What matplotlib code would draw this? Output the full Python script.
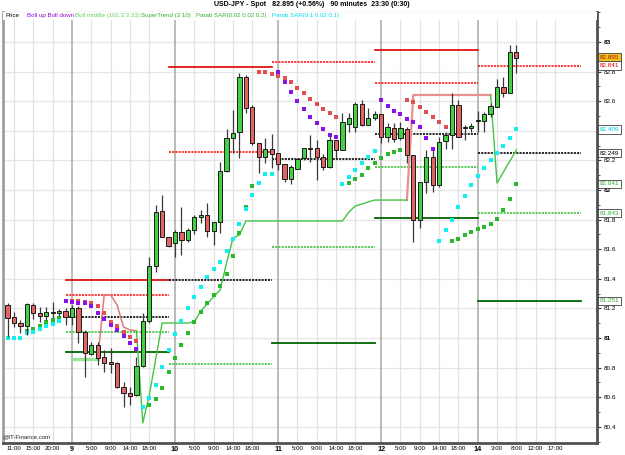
import numpy as np
import matplotlib
matplotlib.use('Agg')
import matplotlib.pyplot as plt
from matplotlib.patches import Rectangle
import matplotlib.transforms as mtrans

plt.rcParams['font.family'] = ['Liberation Sans', 'DejaVu Sans']
plt.rcParams['lines.scale_dashes'] = False

# ---------------- data ----------------
bar_idx = list(range(-10, 70))
opens = [81.223, 81.142, 81.101, 81.081, 81.223, 81.169, 81.149, 81.169, 81.169, 81.182,
         81.142, 81.203, 81.041, 80.892, 80.953, 80.872, 80.838, 80.831, 80.669, 80.628,
         80.615, 80.811, 81.115, 81.486, 81.858, 81.682, 81.642, 81.716, 81.662, 81.730,
         81.818, 81.831, 81.723, 81.784, 82.128, 82.351, 82.392, 82.764, 82.561, 82.318,
         82.223, 82.277, 82.250, 82.176, 82.074, 82.142, 82.216, 82.277, 82.284, 82.223,
         82.155, 82.338, 82.270, 82.446, 82.426, 82.581, 82.439, 82.486, 82.514, 82.358,
         82.419, 82.351, 82.412, 82.236, 81.797, 82.054, 82.223, 82.034, 82.331, 82.372,
         82.574, 82.419, 82.419, 82.466, 82.466, 82.514, 82.561, 82.696, 82.655, 82.932]
highs = [81.236, 81.176, 81.122, 81.236, 81.236, 81.209, 81.209, 81.243, 81.196, 81.203,
         81.223, 81.216, 81.054, 80.973, 80.973, 80.919, 80.932, 80.838, 80.703, 80.669,
         80.872, 81.169, 81.547, 81.899, 81.966, 81.682, 81.730, 81.885, 81.743, 81.831,
         81.865, 81.912, 81.784, 82.189, 82.412, 82.541, 82.791, 82.777, 82.575, 82.318,
         82.351, 82.378, 82.250, 82.176, 82.169, 82.209, 82.284, 82.372, 82.338, 82.243,
         82.372, 82.338, 82.520, 82.520, 82.595, 82.608, 82.554, 82.534, 82.514, 82.453,
         82.453, 82.459, 82.426, 82.236, 82.054, 82.270, 82.270, 82.358, 82.392, 82.655,
         82.608, 82.439, 82.453, 82.534, 82.527, 82.588, 82.750, 82.764, 82.980, 82.980]
lows = [81.007, 81.074, 81.034, 81.020, 81.128, 81.108, 81.122, 81.135, 81.149, 81.088,
        81.088, 80.966, 80.736, 80.885, 80.818, 80.770, 80.764, 80.662, 80.534, 80.547,
        80.608, 80.804, 81.101, 81.446, 81.682, 81.615, 81.547, 81.561, 81.649, 81.703,
        81.777, 81.682, 81.628, 81.709, 82.122, 82.250, 82.216, 82.520, 82.304, 82.115,
        82.182, 82.149, 82.135, 82.054, 82.041, 82.142, 82.203, 82.189, 82.068, 82.135,
        82.149, 82.216, 82.270, 82.392, 82.392, 82.432, 82.439, 82.473, 82.318, 82.324,
        82.324, 82.338, 82.182, 81.649, 81.743, 81.980, 81.986, 82.020, 82.277, 82.277,
        82.358, 82.338, 82.392, 82.392, 82.392, 82.493, 82.561, 82.628, 82.655, 82.791]
closes = [81.135, 81.101, 81.081, 81.230, 81.169, 81.149, 81.176, 81.176, 81.182, 81.142,
          81.203, 81.041, 80.899, 80.953, 80.865, 80.831, 80.824, 80.669, 80.628, 80.608,
          80.811, 81.115, 81.486, 81.851, 81.682, 81.622, 81.716, 81.662, 81.730, 81.818,
          81.831, 81.723, 81.784, 82.128, 82.351, 82.385, 82.764, 82.554, 82.318, 82.223,
          82.277, 82.243, 82.176, 82.074, 82.155, 82.209, 82.284, 82.284, 82.223, 82.155,
          82.338, 82.270, 82.459, 82.486, 82.581, 82.439, 82.486, 82.514, 82.358, 82.426,
          82.345, 82.419, 82.236, 81.797, 82.054, 82.223, 82.034, 82.324, 82.372, 82.574,
          82.358, 82.426, 82.432, 82.468, 82.514, 82.568, 82.696, 82.655, 82.932, 82.895]

# Parabolic SAR (0.02 0.02 0.2): green below price, red above price
sar1_green_idx = list(range(-7, -1)) + list(range(12, 29)) + list(range(43, 52)) + list(range(59, 70))
sar1_green = [81.044, 81.061, 81.081, 81.108, 81.122, 81.135,
              80.547, 80.588, 80.664, 80.768, 80.863, 80.953, 81.036, 81.108, 81.176, 81.236,
              81.291, 81.353, 81.432, 81.554, 81.709, 81.885, 82.029,
              82.049, 82.072, 82.101, 82.147, 82.182, 82.214, 82.241, 82.257, 82.270,
              81.655, 81.669, 81.693, 81.714, 81.734, 81.752, 81.772, 81.804, 81.863, 81.937, 82.041]
sar1_red_idx = list(range(0, 11)) + list(range(29, 42)) + list(range(52, 59))
sar1_red = [81.250, 81.247, 81.243, 81.236, 81.216, 81.169, 81.110, 81.081, 81.039, 81.007, 80.980,
            82.799, 82.799, 82.784, 82.772, 82.755, 82.732, 82.687, 82.653, 82.615, 82.581, 82.547,
            82.518, 82.490,
            82.608, 82.597, 82.563, 82.525, 82.491, 82.457, 82.424]

# Parabolic SAR (0.1 0.02 0.1): cyan below price, purple above price
sar2_cyan_idx = list(range(-10, -1)) + list(range(11, 32)) + list(range(42, 48)) + list(range(57, 70))
sar2_cyan = [81.002, 81.002, 81.002, 81.032, 81.043, 81.061, 81.081, 81.097, 81.115,
             80.536, 80.593, 80.682, 80.802, 80.919, 81.027, 81.117, 81.203, 81.279, 81.347,
             81.414, 81.466, 81.516, 81.588, 81.668, 81.767, 81.874, 81.964, 82.045, 82.106, 82.106,
             82.041, 82.090, 82.135, 82.184, 82.225, 82.266,
             81.655, 81.730, 81.797, 81.887, 81.961, 82.034, 82.097, 82.151, 82.203, 82.252,
             82.299, 82.349, 82.410]
sar2_purple_idx = list(range(-1, 11)) + list(range(32, 42)) + list(range(48, 57))
sar2_purple = [81.250, 81.241, 81.234, 81.234, 81.216, 81.171, 81.126, 81.091, 81.054, 81.016, 80.968, 80.924,
               82.799, 82.732, 82.660, 82.601, 82.547, 82.495, 82.455, 82.410, 82.372, 82.360,
               82.608, 82.570, 82.536, 82.514, 82.480, 82.461, 82.428, 82.349, 82.279]

# Boll middle (short visible segment)
boll_mid_idx = [0, 1, 2, 3, 4]
boll_mid = [80.858, 80.858, 80.858, 80.858, 80.858]

# SuperTrend (3 10): segments, up-trend (green) / down-trend (red)
st_red_a_idx = list(range(4, 11))
st_red_a = [80.858, 81.291, 81.291, 81.223, 81.074, 81.054, 81.049]
st_green_b_idx = list(range(10, 53))
st_green_b = [81.049, 80.426, 80.615, 80.858, 81.101, 81.101, 81.101, 81.101, 81.101, 81.110,
              81.182, 81.230, 81.280, 81.324, 81.507, 81.676, 81.696, 81.791,
              81.791, 81.791, 81.791, 81.791, 81.791, 81.791, 81.791, 81.791, 81.791, 81.791,
              81.791, 81.791, 81.791, 81.791, 81.791,
              81.851, 81.892, 81.905, 81.919, 81.932, 81.932, 81.932, 81.932, 81.932, 81.932]
st_red_b_idx = list(range(52, 66))
st_red_b = [81.932] + [82.642] * 13
st_green_c_idx = list(range(65, 70))
st_green_c = [82.642, 82.047, 82.122, 82.196, 82.270]

# Daily pivot levels
piv_start = [-1, 15, 31, 47, 63]
piv_end = [15, 31, 47, 63, 79]
piv_r2 = [81.392, 82.829, np.nan, 82.946, np.nan]
piv_r1 = [81.288, 82.259, 82.865, 82.721, 82.841]
piv_p = [81.144, 81.392, 82.209, 82.378, 82.249]
piv_s1 = [81.043, 80.822, 81.617, 82.153, 81.843]
piv_s2 = [80.903, np.nan, 80.966, 81.813, 81.251]

# x-axis ticks
tick_pos = [-9, -6, -3, 0, 3, 6, 9, 12, 16, 19, 22, 25, 28, 32, 35, 38, 41, 44,
            48, 51, 54, 57, 60, 63, 66, 69, 72, 75]
tick_lab = ['11:00', '15:00', '20:00', '9', '5:00', '9:00', '14:00', '18:00',
            '10', '5:00', '9:00', '14:00', '18:00', '11', '5:00', '9:00', '14:00', '18:00',
            '12', '5:00', '9:00', '14:00', '18:00', '14', '3:00', '8:00', '12:00', '17:00']
day_ticks = ['9', '10', '11', '12', '14']

# right-axis tick values (82.4 is hidden behind a value box in the original)
ytick_vals = [80.4, 80.6, 80.8, 81.0, 81.2, 81.4, 81.6, 81.8, 82.0, 82.2, 82.4, 82.6, 82.8, 83.0]
ytick_hidden = [82.4]

# right-side value labels
last_price = 82.895
value_labels = [(82.841, '82.841', '#e00000'), (82.409, '82.409', '#00c8e0'),
                (82.249, '82.249', '#000000'), (82.041, '82.041', '#30b030'),
                (81.843, '81.843', '#30b030'), (81.251, '81.251', '#30b030')]

title = 'USD-JPY - Spot   82.895 (+0.56%)   90 minutes  23:30 (0:30)'

# ---------------- figure ----------------
W, H = 625, 455
fig = plt.figure(figsize=(W / 100, H / 100), dpi=100)
ax = fig.add_axes([3 / W, 12 / H, 594 / W, 431 / H])
ax.set_xlim(-10.714, 81.52)
ax.set_ylim(80.2905, 83.2027)

# grid
for v in ytick_vals:
    ax.axhline(v, color='#e6e6e6', lw=0.9, zorder=0)
for p, lab in zip(tick_pos, tick_lab):
    if lab in day_ticks:
        ax.axvline(p, color='#a8a8a8', lw=1.1, zorder=0)
    else:
        ax.axvline(p, color='#e2e2e2', lw=0.9, zorder=0)

# pivot lines
dot = (0, (1.5, 0.8))
for xs, xe, r2, r1, pp, s1, s2 in zip(piv_start, piv_end, piv_r2, piv_r1, piv_p, piv_s1, piv_s2):
    ax.plot([xs, xe], [r2, r2], color='#e00000', lw=1.2, zorder=2)
    ax.plot([xs, xe], [r1, r1], color='#ff1010', lw=1.2, ls=dot, zorder=2)
    ax.plot([xs, xe], [pp, pp], color='#000000', lw=1.2, ls=dot, zorder=2)
    ax.plot([xs, xe], [s1, s1], color='#3cc03c', lw=1.2, ls=dot, zorder=2)
    ax.plot([xs, xe], [s2, s2], color='#006400', lw=1.3, zorder=2)

# Boll middle & SuperTrend
ax.plot(boll_mid_idx, boll_mid, color='#98e498', lw=2.4, zorder=2)
ax.plot(st_red_a_idx, st_red_a, color='#e07878', lw=1.1, zorder=2)
ax.plot(st_red_b_idx, st_red_b, color='#e89090', lw=1.6, zorder=2)
ax.plot(st_green_b_idx, st_green_b, color='#44c444', lw=1.0, zorder=2)
ax.plot(st_green_c_idx, st_green_c, color='#44c444', lw=1.0, zorder=2)

# SAR dots
ms = 5
ax.scatter(sar1_green_idx, sar1_green, marker='s', s=ms, color='#2cb82c', linewidths=0, zorder=3)
ax.scatter(sar1_red_idx, sar1_red, marker='s', s=ms, color='#e05050', linewidths=0, zorder=3)
ax.scatter(sar2_cyan_idx, sar2_cyan, marker='s', s=ms, color='#10f0f0', linewidths=0, zorder=3)
ax.scatter(sar2_purple_idx, sar2_purple, marker='s', s=ms, color='#8a10f0', linewidths=0, zorder=3)

# candles
o = np.array(opens); h = np.array(highs); l = np.array(lows); c = np.array(closes)
xb = np.array(bar_idx)
up = c >= o
ax.vlines(xb, l, h, color='#3a3a3a', lw=0.9, zorder=4)
bottom = np.minimum(o, c)
height = np.maximum(np.abs(c - o), 0.006)
ax.bar(xb, height, bottom=bottom, width=0.66,
       color=np.where(up, '#44d044', '#e06464'), edgecolor='#1a1a1a', linewidth=0.7, zorder=5)

# axes styling
ax.spines['left'].set_color('#a0a0a0'); ax.spines['left'].set_linewidth(2)
for s in ['right', 'bottom']:
    ax.spines[s].set_color('#505050'); ax.spines[s].set_linewidth(2)
ax.spines['top'].set_color('#707070'); ax.spines['top'].set_linewidth(0.8)

ax.yaxis.tick_right()
ax.set_yticks(ytick_vals)
ax.set_yticks(np.round(np.arange(80.3, 83.21, 0.1), 1), minor=True)
ax.set_yticklabels(['' if v in ytick_hidden else f'{v:g}' for v in ytick_vals])
for t, v in zip(ax.get_yticklabels(), ytick_vals):
    if abs(v - round(v)) < 1e-6:
        t.set_fontweight('bold')
ax.tick_params(axis='y', which='major', length=3, width=0.8, color='#404040', labelsize=4.6, pad=1.5)
ax.tick_params(axis='y', which='minor', length=2, width=0.6, color='#404040')

ax.set_xticks(tick_pos)
ax.set_xticklabels(tick_lab)
ax.tick_params(axis='x', length=0, labelsize=4.4, pad=2.5)
for t in ax.get_xticklabels():
    if t.get_text() in day_ticks:
        t.set_fontweight('bold')
        t.set_fontsize(5.2)

# legend strip
ax.add_patch(Rectangle((0, 1 - 8 / 431), 1, 8 / 431, transform=ax.transAxes,
                       facecolor='white', edgecolor='none', zorder=6))
leg = [(5, 'Price', '#000000'), (27, 'Boll up Boll down', '#9000d0'),
       (75, 'Boll middle (102.3 2.33)', '#60d060'), (141, 'SuperTrend (3 10)', '#30b030'),
       (196, 'Parab SAR(0.02 0.02 0.2)', '#30b030'), (272, 'Parab SAR(0.1 0.02 0.1)', '#00d8e8')]
for xp, txt, col in leg:
    fig.text(xp / W, 1 - 15.5 / H, txt, color=col, fontsize=4.4,
             ha='left', va='center')

fig.text(312 / W, 1 - 5 / H, title, ha='center', va='center', fontsize=5, fontweight='bold')
fig.text(3 / W, 1 - 437 / H, '@IT-Finance.com', ha='left', va='center', fontsize=4.4, color='#202020')

# right value labels
tr = mtrans.blended_transform_factory(fig.transFigure, ax.transData)
ax.text(600 / W, last_price, f'{last_price:.3f}', transform=tr, fontsize=4.6, color='#a02000',
        ha='left', va='center', clip_on=False, zorder=10,
        bbox=dict(boxstyle='square,pad=0.25', fc='#f0c020', ec='#404040', lw=0.6))
for val, txt, col in value_labels:
    ax.text(600 / W, val, txt, transform=tr, fontsize=4.6, color=col,
            ha='left', va='center', clip_on=False, zorder=10,
            bbox=dict(boxstyle='square,pad=0.25', fc='white', ec='#404040', lw=0.6))

fig.savefig('out.png', dpi=100)
